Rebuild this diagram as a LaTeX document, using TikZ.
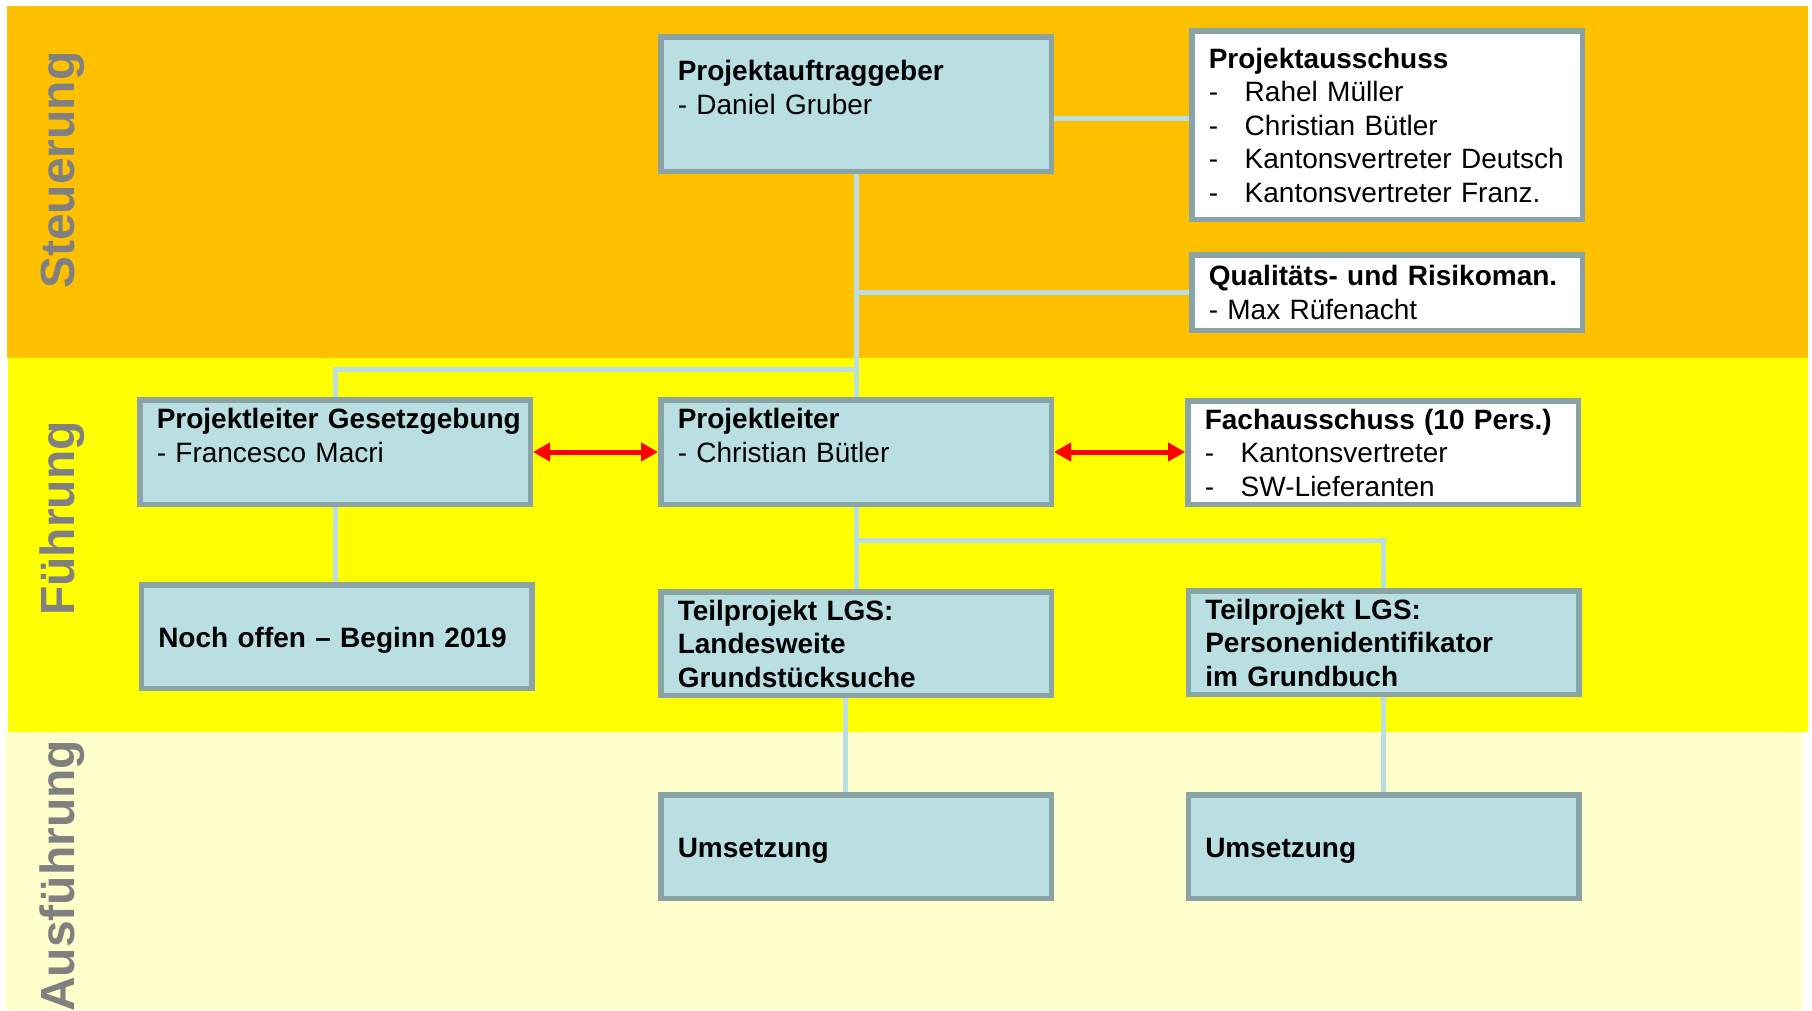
\documentclass[tikz,border=0pt]{standalone}
\usepackage{fontspec}
\setmainfont{Liberation Sans}
\usepackage{xcolor}
\usepackage{tikz}
\usetikzlibrary{positioning,arrows.meta}

\definecolor{bandorange}{RGB}{255,192,0}
\definecolor{bandyellow}{RGB}{255,255,0}
\definecolor{bandlight}{RGB}{255,255,204}
\definecolor{boxfill}{RGB}{185,223,227}
\definecolor{boxline}{RGB}{137,163,166}
\definecolor{lanegray}{RGB}{128,128,128}

\newcommand{\listdash}{\makebox[36pt][l]{-}}

\begin{document}
\begin{tikzpicture}[x=1pt, y=-1pt,
    box/.style={draw=boxline, line width=5.5pt, fill=boxfill, text width=356.5pt, inner xsep=17pt, inner ysep=0pt, align=left, font=\fontsize{28}{33.5}\selectfont},
    whitebox/.style={box, fill=white},
    boldbox/.style={box, font=\fontsize{28}{33.5}\selectfont\bfseries},
    onebox/.style={boldbox, text height=27.5pt, text depth=6pt},
    link/.style={draw=boxfill, line width=5pt},
    redarrow/.style={draw=red, line width=5pt, {Triangle[length=17pt,width=18pt]}-{Triangle[length=17pt,width=18pt]}},
    lane/.style={anchor=base west, rotate=90, inner sep=0pt, text=lanegray, font=\fontsize{48}{50}\selectfont\bfseries}]
    \useasboundingbox (0,0) rectangle (1812,1010);
    \fill [bandorange] (7,6) rectangle (1808,358); % Steuerung
    \fill [bandyellow] (8,358) rectangle (1808,732); % Fuehrung
    \fill [bandlight] (5,732) rectangle (1803,1010); % Ausfuehrung
    \node [lane] (steuerung) at (74,289) {Steuerung};
    \node [lane] (fuehrung) at (74,616) {Führung};
    \node [lane] (ausfuehrung) at (74,1012) {Ausführung};
    % Steuerung
    \node [box, minimum height=134.5pt] (auftraggeber) at (856,104) {\textbf{Projektauftraggeber}\\- Daniel Gruber\\\mbox{}};
    \node [whitebox, minimum height=188.5pt] (ausschuss) at (1387,125) {\textbf{Projektausschuss}\\\listdash Rahel Müller\\\listdash Christian Bütler\\\listdash Kantonsvertreter Deutsch\\\listdash Kantonsvertreter Franz.};
    \node [whitebox, minimum height=75.5pt] (risiko) at (1387,292.5) {\textbf{Qualitäts- und Risikoman.}\\- Max Rüfenacht};
    % Fuehrung
    \node [box, minimum height=104.5pt] (leitergesetz) at (335,452) {\mbox{\textbf{Projektleiter Gesetzgebung}}\\- Francesco Macri\\\mbox{}};
    \node [box, minimum height=104.5pt] (leiter) at (856,452) {\textbf{Projektleiter}\\- Christian Bütler\\\mbox{}};
    \node [whitebox, minimum height=103.5pt] (fach) at (1383,452.5) {\textbf{Fachausschuss (10 Pers.)}\\\listdash Kantonsvertreter\\\listdash SW-Lieferanten};
    \node [onebox, minimum height=103.5pt] (offen) at (336.5,636.5) {Noch offen – Beginn 2019};
    \node [boldbox, minimum height=103.5pt] (tpsuche) at (856,643.5) {Teilprojekt LGS:\\Landesweite\\Grundstücksuche};
    \node [boldbox, minimum height=103.5pt] (tpident) at (1383.5,642.5) {Teilprojekt LGS:\\Personenidentifikator\\im Grundbuch};
    % Ausfuehrung
    \node [onebox, minimum height=103.5pt] (umsuche) at (856,846.5) {Umsetzung};
    \node [onebox, minimum height=103.5pt] (umident) at (1383.5,846.5) {Umsetzung};
    % connectors
    \draw [link] (auftraggeber.south) -- (leiter.north);
    \draw [link] ([yshift=-14pt]auftraggeber.east) -- ([yshift=-14pt]auftraggeber.east -| ausschuss.west);
    \draw [link] (risiko.west -| auftraggeber.south) -- (risiko.west);
    \draw [link] ([yshift=28pt]leiter.north) -| (leitergesetz.north);
    \draw [link] (leitergesetz.south) -- (leitergesetz.south |- offen.north);
    \draw [link] (leiter.south) -- (tpsuche.north);
    \draw [link] ([yshift=-33pt]leiter.south) -| (tpident.north);
    \draw [link] ([xshift=-11pt]tpsuche.south) -- ([xshift=-11pt]umsuche.north);
    \draw [link] (tpident.south) -- (umident.north);
    \draw [redarrow] (leitergesetz.east) -- (leiter.west);
    \draw [redarrow] (leiter.east) -- (leiter.east -| fach.west);
\end{tikzpicture}
\end{document}
